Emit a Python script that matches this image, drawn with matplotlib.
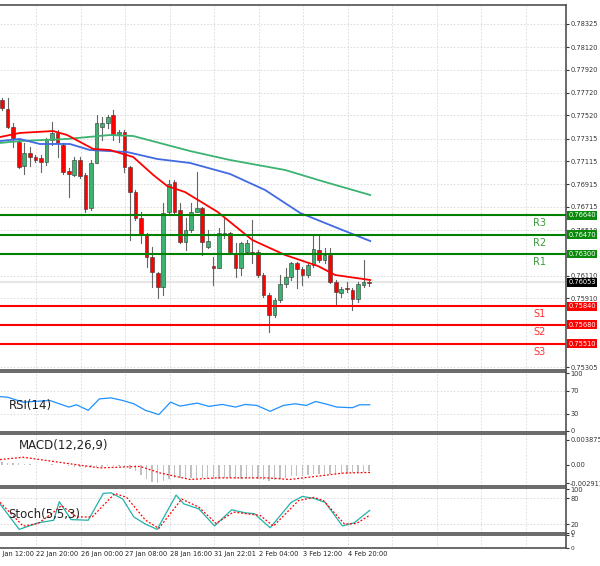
import matplotlib
matplotlib.use("Agg")
import matplotlib.pyplot as plt
from matplotlib.patches import Rectangle
from matplotlib.transforms import blended_transform_factory as btf
import numpy as np

opens = [.77656,.77577,.77418,.77286,.77075,.77190,.77154,.77146,.77110,.77304,.77366,.77260,.77031,.76996,.77128,.76996,.76706,.77102,.77418,.77454,.77524,.77357,.77374,.77066,.76846,.76618,.76468,.76274,.76134,.76010,.76670,.76934,.76688,.76406,.76512,.76670,.76706,.76362,.76195,.76178,.76477,.76486,.76310,.76178,.76318,.76318,.76318,.76116,.75940,.75764,.75896,.76037,.76098,.76222,.76169,.76116,.76204,.76336,.76248,.76292,.76054,.75958,.76002,.75984,.75905,.76028,.76054]
closes = [.77586,.77418,.77322,.77066,.77190,.77154,.77128,.77110,.77304,.77366,.77278,.77022,.77005,.77128,.76988,.76697,.77102,.77454,.77454,.77506,.77357,.77374,.77066,.76846,.76618,.76468,.76274,.76142,.76010,.76662,.76917,.76670,.76406,.76512,.76670,.76706,.76406,.76415,.76178,.76486,.76486,.76318,.76178,.76398,.76398,.76310,.76116,.75940,.75764,.75896,.76037,.76098,.76222,.76169,.76116,.76204,.76345,.76248,.76292,.76054,.75966,.75993,.75993,.75905,.76037,.76054,.76046]
highs = [.77674,.77674,.77454,.77304,.77278,.77242,.77172,.77172,.77322,.77462,.77392,.77278,.77058,.77154,.77154,.77014,.77128,.77524,.77506,.77524,.77568,.77392,.77392,.77075,.76864,.76670,.76486,.76362,.76142,.76750,.76952,.76952,.76750,.76618,.76750,.77022,.76714,.76512,.76274,.76530,.76618,.76494,.76398,.76406,.76424,.76600,.76336,.76134,.75958,.75914,.76116,.76178,.76230,.76230,.76186,.76222,.76459,.76459,.76354,.76354,.76072,.76010,.76054,.76002,.76054,.76248,.76063]
lows = [.77568,.77410,.77242,.77058,.77005,.77075,.77110,.77022,.77084,.77260,.77154,.77005,.76802,.76988,.76970,.76670,.76688,.77102,.77304,.77410,.77304,.77286,.77022,.76424,.76600,.76398,.76186,.76010,.75914,.75940,.76662,.76662,.76398,.76336,.76494,.76688,.76292,.76354,.76028,.76178,.76442,.76310,.76098,.76116,.76310,.76222,.76098,.75922,.75614,.75746,.75878,.76010,.76072,.76002,.76028,.76098,.76186,.76230,.76222,.76046,.75861,.75922,.75966,.75808,.75878,.76010,.76019]

ma_red_idx = [-0.36,3.2,9.2,11.7,16.4,19.4,23.6,27.2,29.7,32.9,38.8,45,50.9,56.8,59.9,66.2]
ma_red = [.77330,.77366,.77383,.77348,.77225,.77216,.77154,.76996,.76899,.76846,.76670,.76424,.76292,.76195,.76116,.76072]
ma_blue_idx = [-0.36,3.2,6.8,12.2,15.8,22.5,27.9,33.8,41,47.3,53.6,61.2,66.2]
ma_blue = [.77295,.77313,.77269,.77269,.77216,.77198,.77137,.77102,.77005,.76864,.76662,.76512,.76415]
ma_green_idx = [-0.36,3.2,11.7,19.4,23.6,33.8,41,50.9,58.1,66.2]
ma_green = [.77278,.77295,.77313,.77348,.77339,.77207,.77128,.77040,.76934,.76820]

res_levels = [0.76640, 0.76470, 0.76300]
res_names = ["R3", "R2", "R1"]
sup_levels = [0.75840, 0.75680, 0.75510]
sup_names = ["S1", "S2", "S3"]
last_price = 0.76053
price_ticks = [0.78325,0.78120,0.77920,0.77720,0.77520,0.77315,0.77115,0.76915,0.76715,0.76510,0.76110,0.75910,0.75305]

rsi_idx = [-0.36,1,3.8,8.6,12,13.4,15.5,17.5,19.6,21.7,23.7,25.8,28.2,30.3,32,35.1,37.2,39.6,42,43.7,45.8,48.2,50.6,52.7,54.7,56.4,58.1,60.2,63,64.3,66.1]
rsi_val = [59.7,58.6,50,52.9,41.4,45.4,35.7,55.7,57.4,52.9,47.1,35.7,28.3,50,43.1,48.3,42.6,46,41.4,46,44.3,34,44.3,47.1,44.3,51.1,47.1,41.4,40.3,45.4,45.4]

macd_hist = [0.0004,0.0003,0.0003,0.0002,0.0001,
             0.0001,0,-0.0001,0,0.0001,0,-0.0001,-0.0002,
             -0.0003,-0.0004,-0.0005,-0.0004,-0.0003,-0.0003,-0.0002,-0.0002,-0.0002,-0.0003,-0.0006,
             -0.0010,-0.0016,-0.0022,-0.0027,-0.0029,-0.0026,
             -0.0022,-0.0020,-0.0021,-0.0022,-0.0021,-0.0020,-0.0021,-0.0021,-0.0022,-0.0022,-0.0021,-0.0021,-0.0022,-0.0022,-0.0022,-0.0022,-0.0023,-0.0024,-0.0025,-0.0024,-0.0022,
             -0.0020,-0.0018,-0.0017,-0.0017,-0.0016,-0.0015,-0.0015,-0.0014,-0.0014,-0.0015,-0.0015,-0.0014,-0.0013,-0.0012,-0.0011,-0.0010]
macd_sig_idx = [-0.36,3.8,13.4,17.6,24.8,28.4,33.8,38.6,47.6,51.8,56.6,61.4,66.2]
macd_sig = [0.0008,0.00117,0,-0.0005,-0.00026,-0.00128,-0.0023,-0.00205,-0.00205,-0.0023,-0.0018,-0.0013,-0.0012]

stoch_idx = [-0.36,3.1,6.5,9.3,10.3,12.4,15.5,18.2,19.6,21.7,23.7,25.8,27.9,31.3,32.7,35.4,38.2,41.3,43.7,45.4,48.2,52,54,56.1,58.1,61.2,63.3,66.1]
stoch_main = [66.5,8,23,29,71.7,30.5,29,90.5,92,77.7,36.5,20,8,86.7,66.5,55,16,53,46,44,11.7,70,83.7,79,70,16,23,51.5]
stoch_sig_idx = [-0.36,3.8,6.5,9.3,10.7,13.4,16.2,20.3,22.4,25.8,28.2,32.3,35.4,38.5,41.6,46.4,48.8,53.3,56.1,57.8,61.6,63.7,66.1]
stoch_sig = [70.2,15.5,21.5,47.7,62.7,36.5,36.5,90.5,81.5,29,10.2,77.7,59,21.5,47.7,40.2,15.5,74,81.5,74,20,21.5,40.2]

tick_idx = [-1.8,6.2,14.2,22.2,30.2,38.2,46.2,54.2,62.2]
tick_labels = ["21 Jan 12:00","22 Jan 20:00","26 Jan 00:00","27 Jan 08:00","28 Jan 16:00",
               "31 Jan 22:01","2 Feb 04:00","3 Feb 12:00","4 Feb 20:00"]

W, H = 600, 566
fig = plt.figure(figsize=(6, 5.66), dpi=100)
fig.patch.set_facecolor("white")
XL = (-0.36, 101.4)
right = 566 / W

def mkax(ytop, ybot):
    return fig.add_axes([0, (H - ybot) / H, right, (ybot - ytop) / H])

ax = mkax(5, 370)
ax_rsi = mkax(372, 432)
ax_macd = mkax(434, 486)
ax_st = mkax(488, 533)
ax_e = mkax(535, 548)
grid_x = [6.2 + 8 * k for k in range(-1, 12)]
for a in (ax, ax_rsi, ax_macd, ax_st, ax_e):
    a.set_xlim(*XL)
    for s in a.spines.values():
        s.set_color("#505050"); s.set_linewidth(1.2)
    a.spines["left"].set_visible(False)
    a.set_xticks([])
    a.yaxis.tick_right()
    a.tick_params(axis="y", labelsize=4.8, length=2, pad=1, colors="#333333")
    for gx in grid_x:
        a.axvline(gx, color="#d8d8d8", ls=(0, (2, 2)), lw=0.6, zorder=0)

# main
ax.set_ylim(0.75280, 0.78492)
ax.set_yticks(price_ticks)
ax.set_yticklabels([f"{t:.5f}" for t in price_ticks])
for t in price_ticks:
    ax.axhline(t, color="#d8d8d8", ls=(0, (2, 2)), lw=0.6, zorder=0)
ax.axhline(last_price, color="#e6e6e6", lw=1.5, zorder=1)
n = len(opens)
xs = np.arange(n)
for i in range(n):
    o, c, h, l = opens[i], closes[i], highs[i], lows[i]
    ax.plot([i, i], [l, h], color="#666666", lw=0.8, zorder=2)
    up = c >= o
    col = "#3cb371" if up else "#ff0000"
    b = min(o, c); hgt = max(abs(c - o), 0.00002)
    ax.add_patch(Rectangle((i - 0.33, b), 0.66, hgt, facecolor=col, edgecolor="#333333", lw=0.4, zorder=3))
ax.plot(ma_green_idx, ma_green, color="#3cb371", lw=1.3, zorder=4)
ax.plot(ma_blue_idx, ma_blue, color="#4169e1", lw=1.3, zorder=4)
ax.plot(ma_red_idx, ma_red, color="#ff0000", lw=1.3, zorder=4)
tr = btf(ax.transAxes, ax.transData)
for lv, nm in zip(res_levels, res_names):
    ax.axhline(lv, color="#008000", lw=1.5, zorder=5)
    ax.text(540 / 566, lv - 0.00025, nm, transform=tr, color="#3a9a3a", fontsize=7, ha="center", va="top")
    ax.text(1.004, lv, f"{lv:.5f}", transform=tr, color="white", fontsize=4.8, va="center", ha="left",
            bbox=dict(facecolor="#0a8a0a", edgecolor="none", pad=1.0), zorder=10, clip_on=False)
for lv, nm in zip(sup_levels, sup_names):
    ax.axhline(lv, color="#ff0000", lw=1.5, zorder=5)
    ax.text(540 / 566, lv - 0.00025, nm, transform=tr, color="#ff3030", fontsize=7, ha="center", va="top")
    ax.text(1.004, lv, f"{lv:.5f}", transform=tr, color="white", fontsize=4.8, va="center", ha="left",
            bbox=dict(facecolor="#ff0000", edgecolor="none", pad=1.0), zorder=10, clip_on=False)
ax.text(1.004, last_price, f"{last_price:.5f}", transform=tr, color="white", fontsize=4.8, va="center", ha="left",
        bbox=dict(facecolor="black", edgecolor="none", pad=1.0), zorder=10, clip_on=False)

# RSI
ax_rsi.set_ylim(-2.1, 102.6)
ax_rsi.set_yticks([100, 70, 30, 0])
for v in (70, 30):
    ax_rsi.axhline(v, color="#d8d8d8", ls=(0, (2, 2)), lw=0.6, zorder=0)
ax_rsi.plot(rsi_idx, rsi_val, color="#1e90ff", lw=0.9)
ax_rsi.text(9 / 566, 0.45, "RSI(14)", transform=ax_rsi.transAxes, fontsize=8.5, va="center", color="#222222")

# MACD
ax_macd.set_ylim(-0.00332, 0.00479)
ax_macd.set_yticks([0.003875, 0.0, -0.002911])
ax_macd.set_yticklabels(["0.003875", "0.00", "-0.002911"])
ax_macd.bar(xs, macd_hist, width=0.25, color="#c0c0c0", zorder=2)
ax_macd.plot(macd_sig_idx, macd_sig, color="#ff0000", lw=0.9, ls=(0, (1.5, 1.5)), zorder=3)
ax_macd.text(19 / 566, 0.78, "MACD(12,26,9)", transform=ax_macd.transAxes, fontsize=8.5, va="center", color="#222222")

# Stoch
ax_st.set_ylim(-0.3, 103)
ax_st.set_yticks([100, 80, 20, 0])
for v in (80, 20):
    ax_st.axhline(v, color="#d8d8d8", ls=(0, (2, 2)), lw=0.6, zorder=0)
ax_st.plot(stoch_idx, stoch_main, color="#20b2aa", lw=0.9, zorder=3)
ax_st.plot(stoch_sig_idx, stoch_sig, color="#ff0000", lw=0.9, ls=(0, (1.5, 1.5)), zorder=3)
ax_st.text(8 / 566, 0.42, "Stoch(5,5,3)", transform=ax_st.transAxes, fontsize=8.5, va="center", color="#222222")

# empty panel + dates
ax_e.set_ylim(0, 1)
ax_e.set_yticks([1, 0])
ax_e.tick_params(axis="y", labelsize=4.2)
tre = btf(ax_e.transData, ax_e.transAxes)
for ti, tl in zip(tick_idx, tick_labels):
    ax_e.text(ti, -0.45, tl, transform=tre, fontsize=4.8, ha="left", va="center", color="#222222", clip_on=False)

fig.savefig("out.png", dpi=100)
